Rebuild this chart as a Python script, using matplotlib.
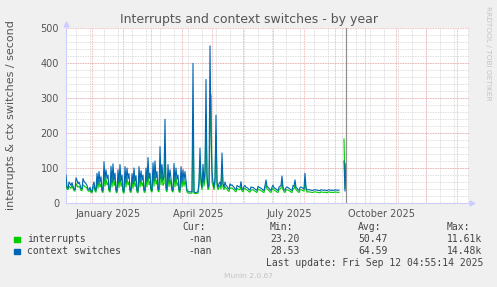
import matplotlib.pyplot as plt
import numpy as np
import pandas as pd

START = pd.Timestamp("2024-12-06")
NOW = pd.Timestamp("2025-09-12 04:55:14")

# daily averages, one row per week, first day = 2024-12-06
ctx_daily = [
    80, 45, 42, 60, 55, 50, 58,
    48, 40, 38, 72, 65, 55, 60,
    52, 42, 40, 70, 62, 58, 55,
    50, 40, 38, 45, 35, 33, 50,
    60, 40, 36, 85, 55, 90, 60,
    75, 38, 35, 118, 65, 95, 70,
    80, 40, 36, 105, 60, 112, 65,
    85, 38, 34, 95, 58, 110, 62,
    80, 36, 33, 104, 60, 100, 70,
    84, 38, 35, 84, 55, 100, 62,
    78, 36, 34, 104, 60, 92, 65,
    80, 38, 35, 100, 62, 130, 70,
    85, 40, 36, 115, 65, 120, 72,
    90, 40, 38, 161, 70, 110, 65,
    75, 239, 45, 38, 110, 62, 95,
    70, 40, 36, 113, 62, 100, 68,
    80, 38, 35, 104, 60, 95, 65,
    90, 65, 36, 34, 32, 32, 32,
    32, 399, 32, 30, 30, 31, 32,
    60, 157, 70, 45, 110, 60, 90,
    353, 80, 45, 50, 449, 200, 90,
    60, 45, 70, 251, 60, 45, 55,
    60, 48, 143, 55, 45, 60, 50,
    48, 42, 40, 55, 50, 52, 48,
    45, 40, 38, 50, 48, 46, 45,
    61, 40, 38, 48, 50, 45, 44,
    42, 38, 37, 46, 44, 45, 42,
    40, 38, 36, 48, 45, 44, 42,
    40, 37, 36, 50, 66, 48, 45,
    42, 38, 36, 45, 51, 44, 42,
    40, 37, 36, 45, 48, 50, 77,
    45, 38, 36, 44, 46, 44, 42,
    40, 37, 36, 50, 48, 66, 45,
    42, 38, 36, 44, 46, 44, 42,
    40, 85, 45, 37, 38, 38, 37,
    37, 36, 36, 38, 38, 37, 37,
    36, 36, 35, 38, 37, 37, 36,
    37, 36, 35, 37, 38, 37, 36,
    37, 36, 36, 38, 37, 37, 36, 37,
    np.nan, np.nan, np.nan, np.nan,
    120, 34, 113,
]

intr_daily = [
    55, 40, 38, 48, 45, 42, 50,
    42, 35, 34, 55, 50, 45, 48,
    44, 36, 35, 52, 50, 46, 45,
    42, 35, 33, 38, 30, 29, 42,
    48, 34, 31, 62, 42, 65, 46,
    55, 32, 30, 80, 48, 68, 52,
    58, 34, 31, 75, 45, 80, 50,
    62, 32, 29, 70, 44, 78, 48,
    58, 31, 28, 75, 45, 72, 52,
    60, 32, 30, 62, 42, 72, 47,
    57, 31, 29, 76, 45, 68, 49,
    58, 32, 30, 72, 46, 90, 52,
    62, 34, 31, 82, 48, 85, 54,
    65, 34, 32, 110, 52, 78, 50,
    56, 150, 36, 32, 80, 47, 68,
    52, 34, 31, 82, 46, 72, 50,
    58, 32, 30, 76, 45, 68, 48,
    65, 50, 31, 29, 28, 28, 28,
    28, 220, 28, 27, 27, 28, 28,
    48, 120, 55, 38, 80, 48, 70,
    250, 62, 38, 42, 200, 309, 60,
    50, 38, 55, 200, 50, 38, 45,
    50, 40, 110, 45, 38, 48, 42,
    40, 35, 33, 44, 42, 43, 40,
    38, 34, 32, 42, 40, 38, 38,
    48, 34, 32, 40, 42, 38, 37,
    35, 32, 31, 38, 37, 38, 35,
    34, 32, 30, 40, 38, 37, 35,
    34, 31, 30, 42, 52, 40, 38,
    35, 32, 30, 38, 42, 37, 35,
    34, 31, 30, 38, 40, 42, 60,
    38, 32, 30, 37, 38, 37, 35,
    34, 31, 30, 42, 40, 52, 38,
    35, 32, 30, 37, 38, 37, 35,
    34, 65, 38, 31, 32, 32, 31,
    31, 30, 30, 32, 32, 31, 31,
    30, 30, 29, 32, 31, 31, 30,
    31, 30, 29, 31, 32, 31, 30,
    31, 30, 30, 32, 31, 31, 30, 31,
    np.nan, np.nan, np.nan, np.nan,
    183, 40, 111,
]

month_labels = ["January 2025", "April 2025", "July 2025", "October 2025"]
label_months = ["2025-01-01", "2025-04-01", "2025-07-01", "2025-10-01"]

legend_names = ["interrupts", "context switches"]
legend_colors = ["#00cc00", "#0066b3"]
cur_vals = ["-nan", "-nan"]
min_vals = ["23.20", "28.53"]
avg_vals = ["50.47", "64.59"]
max_vals = ["11.61k", "14.48k"]

W, H = 497, 287
fig = plt.figure(figsize=(W / 100, H / 100), dpi=100, facecolor="#f0f0f0")
ax = fig.add_axes([66 / W, 1 - 203 / H, 403 / W, 175 / H])
ax.set_facecolor("white")

days = np.arange(len(ctx_daily))
ax.set_xlim(0, 403)
ax.set_ylim(0, 500)

# grid
dotted = (0, (1, 1))
for y in range(20, 500, 20):
    ax.axhline(y, color="#d4d4d4", lw=0.6, ls=dotted, zorder=1)
for d in range(10, 403, 14):
    ax.axvline(d, color="#d4d4d4", lw=0.6, ls=dotted, zorder=1)
for y in range(100, 501, 100):
    ax.axhline(y, color="#eea4a4", lw=0.6, ls=dotted, zorder=2)
for m in pd.date_range("2024-12-01", "2026-02-01", freq="MS"):
    d = (m - START).days
    if 0 < d < 403:
        ax.axvline(d, color="#eea4a4", lw=0.6, ls=dotted, zorder=2)

ax.plot(days, intr_daily, color=legend_colors[0], lw=0.8, zorder=3)
ax.plot(days, ctx_daily, color=legend_colors[1], lw=0.8, zorder=4)

now_d = (NOW - START) / pd.Timedelta(days=1)
ax.axvline(now_d, color="#909090", lw=0.9, zorder=5)

for s in ["top", "right"]:
    ax.spines[s].set_visible(False)
for s in ["left", "bottom"]:
    ax.spines[s].set_color("#ccccff")
    ax.spines[s].set_linewidth(0.8)
ax.plot([0], [1.022], marker="^", color="#ccccff", ms=3.5, transform=ax.transAxes, clip_on=False)
ax.plot([1.008], [0], marker=">", color="#ccccff", ms=3.5, transform=ax.transAxes, clip_on=False)

ax.set_yticks(range(0, 501, 100))
label_pos = [(pd.Timestamp(m) - START).days + 16 for m in label_months]
ax.set_xticks(label_pos)
ax.set_xticklabels(month_labels)
ax.tick_params(length=0, labelsize=7, colors="#555555", pad=4)
ax.tick_params(axis="y", pad=5)

fig.text(0.5, 1 - 19.5 / H, "Interrupts and context switches - by year",
         ha="center", va="center", fontsize=9, color="#555555")
fig.text(11 / W, 1 - 115 / H, "interrupts & ctx switches / second",
         rotation=90, ha="center", va="center", fontsize=8, color="#555555")
fig.text(488 / W, 1 - 6 / H, "RRDTOOL / TOBI OETIKER", rotation=270,
         ha="center", va="top", fontsize=5.3, color="#c4c4c4")

mono = dict(family="DejaVu Sans Mono", fontsize=7, color="#444444", va="baseline")
cols = [182, 270, 358, 447]
for x, t in zip(cols, ["Cur:", "Min:", "Avg:", "Max:"]):
    fig.text(x / W, 1 - 230.5 / H, t, **mono)
rows = [242.5, 254.5]
for i, yb in enumerate(rows):
    fig.patches.append(plt.Rectangle((14 / W, 1 - (yb - 0.5) / H), 5.5 / W, 5.5 / H,
                                     transform=fig.transFigure, color=legend_colors[i]))
    fig.text(27 / W, 1 - yb / H, legend_names[i], **mono)
    fig.text(188 / W, 1 - yb / H, cur_vals[i], **mono)
    fig.text(cols[1] / W, 1 - yb / H, min_vals[i], **mono)
    fig.text(cols[2] / W, 1 - yb / H, avg_vals[i], **mono)
    fig.text(cols[3] / W, 1 - yb / H, max_vals[i], **mono)
fig.text(483 / W, 1 - 266.5 / H, "Last update: Fri Sep 12 04:55:14 2025",
         ha="right", **mono)
fig.text(248 / W, 1 - 278 / H, "Munin 2.0.67", ha="center", va="baseline",
         fontsize=5.4, color="#c4c4c4")

fig.savefig("out.png", dpi=100, facecolor=fig.get_facecolor())
